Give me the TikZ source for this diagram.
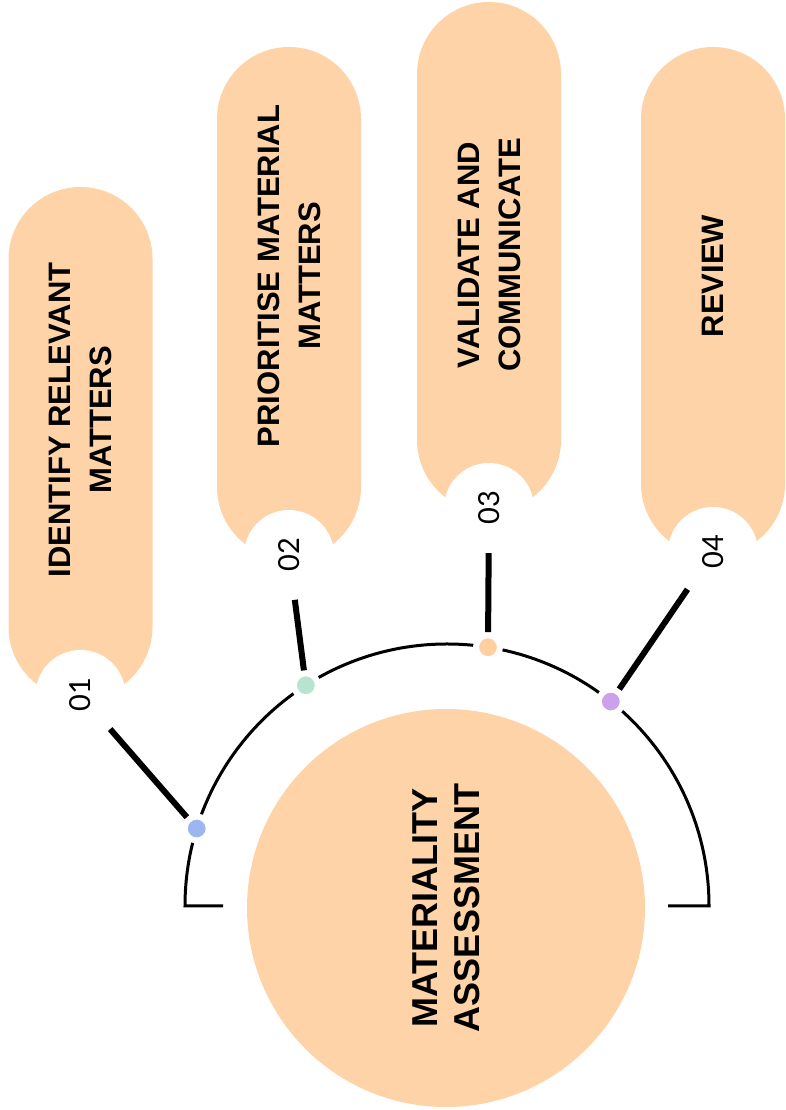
\documentclass[tikz,border=0pt]{standalone}
\usepackage{fontspec}
\setmainfont{Lato}
\newfontfamily\capfont{Liberation Sans}

\definecolor{peach}{HTML}{FFD3A8}
\definecolor{dotblue}{HTML}{9DB5F0}
\definecolor{dotgreen}{HTML}{B6E4D0}
\definecolor{dotpeach}{HTML}{FFCFA0}
\definecolor{dotviolet}{HTML}{CBA0EC}

\begin{document}
\begin{tikzpicture}[x=1pt, y=1pt,
    pill/.style={fill=peach, rounded corners=72pt},
    notch/.style={circle, fill=white, minimum size=90pt, inner sep=0pt, rotate=90,
      font=\fontsize{29}{29}\selectfont},
    dot/.style={circle, minimum size=24pt, inner sep=0pt, fill=#1, draw=white, line width=6pt},
    link/.style={line width=6pt},
    steptext/.style={rotate=90, align=center, font=\capfont\fontsize{31}{41}\selectfont\bfseries}]
  \useasboundingbox (0,0) rectangle (786,1110);

  % Step pills.
  \fill[pill] (8.5,411) rectangle (152.5,923);
  \fill[pill] (217,551) rectangle (361,1063);
  \fill[pill] (417,598) rectangle (561,1108);
  \fill[pill] (641,554) rectangle (785,1063);

  % Numbers, cut into the foot of each pill.
  \node[notch] (n1) at (80.5,415) {01};
  \node[notch] (n2) at (289,555) {02};
  \node[notch] (n3) at (489,602) {03};
  \node[notch] (n4) at (713,558) {04};

  % Pill captions.
  \node[steptext] (t1) at (80.5,690) {IDENTIFY RELEVANT\\MATTERS};
  \node[steptext] (t2) at (289,834) {PRIORITISE MATERIAL\\MATTERS};
  \node[steptext] (t3) at (489,855) {VALIDATE AND\\COMMUNICATE};
  \node[steptext] (t4) at (713,834) {REVIEW};

  % Centre disc.
  \node[circle, fill=peach, minimum size=398pt, inner sep=0pt, rotate=90, align=center,
    font=\capfont\fontsize{36}{42}\selectfont\bfseries] (core) at (446,202) {MATERIALITY\\ASSESSMENT};

  % Half ring round the disc, with short feet.
  \draw[line width=3pt] (223,204) -- (185,204) arc[start angle=180, end angle=0, radius=262] -- (668,204);

  % Dots on the ring.
  \path (447,204) ++(162.8:262) node[dot=dotblue] (d1) {};
  \path (447,204) ++(122.6:262) node[dot=dotgreen] (d2) {};
  \path (447,204) ++(81:262) node[dot=dotpeach] (d3) {};
  \path (447,204) ++(51.3:262) node[dot=dotviolet] (d4) {};

  % Links from numbers to dots.
  \draw[link] (n1) -- (d1);
  \draw[link] (n2) -- (d2);
  \draw[link] (n3) -- (d3);
  \draw[link] (n4) -- (d4);
\end{tikzpicture}
\end{document}
